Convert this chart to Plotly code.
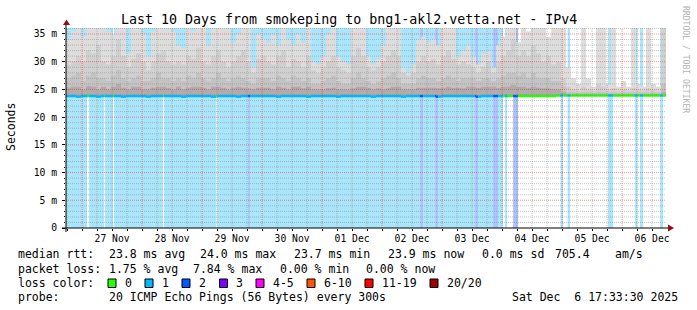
import pandas as pd
import plotly.graph_objects as go

# ---------------- data ----------------
TITLE = "Last 10 Days from smokeping to bng1-akl2.vetta.net - IPv4"
START = "2025-11-26 17:33:30"
END = "2025-12-06 17:33:30"
DAY0 = "2025-11-27 00:00:00"
BIN_HOURS = 2

day_labels = ["27 Nov", "28 Nov", "29 Nov", "30 Nov", "01 Dec",
              "02 Dec", "03 Dec", "04 Dec", "05 Dec", "06 Dec"]
y_ticks = [0, 5, 10, 15, 20, 25, 30, 35]
y_tick_labels = ["0", "5 m", "10 m", "15 m", "20 m", "25 m", "30 m", "35 m"]

# median rtt per 2h bin (ms)
median_ms = [
    23.8, 23.8, 23.7, 23.8, 23.8, 23.8, 23.7, 23.8, 23.8, 23.8,
    23.8, 23.7, 23.8, 23.8, 23.8, 23.8, 23.7, 23.8, 23.8, 23.8,
    23.8, 23.8, 23.8, 23.7, 23.8, 23.8, 23.8, 23.8, 23.8, 23.7,
    23.8, 23.8, 23.8, 23.8, 23.7, 23.8, 23.8, 23.8, 23.8, 23.8,
    23.8, 23.8, 23.7, 23.8, 23.8, 23.8, 23.8, 23.8, 23.7, 23.8,
    23.8, 23.8, 23.8, 23.8, 23.7, 23.8, 23.8, 23.8, 23.8, 23.8,
    23.8, 23.7, 23.8, 23.8, 23.8, 23.8, 23.8, 23.7, 23.8, 23.8,
    23.8, 23.8, 23.8, 23.8, 23.7, 23.8, 23.8, 23.8, 23.8, 23.8,
    23.8, 23.8, 23.7, 23.8, 23.8, 23.8, 23.8, 23.8, 23.8, 23.8,
    23.8, 23.8, 23.8, 23.8, 23.8, 23.8, 23.8, 23.8, 23.9, 23.9,
    23.9, 23.9, 23.9, 23.9, 23.9, 23.9, 23.9, 23.9, 23.9, 23.9,
    23.9, 23.9, 23.9, 23.9, 23.9, 23.9, 23.9, 23.9, 23.9, 23.9,
]
# smoke: highest ping per bin (values above the axis top are clipped)
smoke_max_ms = [
    34, 35.5, 40, 34.5, 40, 40, 40, 40, 35.5, 35,
    40, 40, 31.5, 40, 36, 35, 31, 35.5, 40, 40,
    40, 35.5, 33, 32.5, 40, 35.5, 40, 40, 33, 36,
    40, 40, 36, 33.5, 35, 40, 40, 29, 35, 34,
    33.5, 35, 33, 40, 34, 33, 35, 33.5, 40, 30,
    29.5, 31, 35, 36, 31, 30, 29.5, 40, 40, 40,
    31, 29.5, 30.5, 33, 40, 40, 36, 29, 28, 29.5,
    34, 34.5, 33.5, 34, 33, 40, 40, 40, 31, 32,
    33, 31, 29.5, 31.5, 32, 29, 33, 34.5, 40, 40,
    33.5, 40, 35.5, 40, 40, 40, 34.5, 40, 40, 40,
    29, 27, 26, 40, 27, 25.5, 40, 40, 26, 40,
    25.5, 26.5, 25.5, 40, 26, 25.5, 40, 26, 25.5, 40,
]
smoke_p2_ms = [
    29.5, 30, 31, 30, 32, 31.5, 33, 30, 29.5, 31,
    34, 31, 29, 30.5, 31.5, 30, 28.5, 30, 31.5, 32,
    30, 29.5, 30, 29.5, 31, 30.5, 32.5, 30, 29.5, 31,
    32, 30, 29, 30, 31, 32, 30, 28, 30.5, 31,
    30, 29.5, 31, 32, 29, 30.5, 30, 29, 31, 28.5,
    28, 29, 30, 31, 29, 28.5, 28, 31, 32.5, 31,
    29, 28.5, 29, 30, 31, 32, 31, 28, 27.5, 28,
    30, 31, 30, 30.5, 29.5, 31, 32, 30.5, 29.5, 30,
    29.5, 29, 28, 29, 30, 28, 30, 31, 32, 34,
    31, 32, 31, 33, 31.5, 30, 31, 29.5, 30, 27,
    25.5, 25, 24.8, 25.5, 25, 24.8, 26, 25.5, 24.8, 25.2,
    24.8, 25, 24.8, 25.2, 25, 24.8, 25.2, 25, 24.8, 40,
]
smoke_p3_ms = [
    27, 27.5, 28, 26.5, 27.5, 28, 27, 27, 26.5, 27.5,
    28.5, 27, 26.5, 27, 27.5, 26.5, 26.5, 27, 28, 27,
    27, 26.5, 27, 26.5, 27.5, 27, 28, 27, 26.5, 27,
    28, 27, 26.5, 27, 27.5, 27, 26.5, 26, 27, 27,
    27, 26.5, 27.5, 27, 26.5, 27.5, 27, 26.5, 27, 26,
    26, 26.5, 27, 27.5, 26.5, 26, 26, 27, 28, 27,
    26.5, 26, 26.5, 27, 27.5, 28, 27, 26, 26, 26,
    27, 27.5, 27, 27, 26.5, 27, 27.5, 27, 26.5, 27,
    27, 27, 26.5, 27, 27, 26.5, 27, 27.5, 28, 28,
    27.5, 28, 27, 28, 27, 27, 27, 26.5, 26.5, 25.5,
    24.6, 24.5, 24.4, 24.5, 24.5, 24.4, 24.6, 24.5, 24.4, 24.5,
    24.4, 24.5, 24.4, 24.5, 24.5, 24.4, 24.5, 24.5, 24.4, 26,
]
smoke_p4_ms = [
    25.3, 25.5, 25.5, 25, 25.6, 25.5, 25, 25.5, 25, 25.5,
    26, 25.3, 25, 25.5, 25.5, 25, 25, 25.3, 25.5, 25.5,
    25.3, 25, 25.5, 25, 25.3, 25.5, 25.5, 25.3, 25, 25.5,
    25.5, 25.3, 25, 25.3, 25.5, 25.3, 25.2, 25, 25.3, 25.3,
    25.3, 25, 25.5, 25.3, 25, 25.5, 25.5, 25.2, 25.5, 25,
    25, 25, 25.2, 25.3, 25, 25, 25, 25.2, 25.5, 25.5,
    25.3, 25, 25.2, 25, 25.2, 25.5, 25.5, 25, 25, 25,
    25.3, 25.3, 25.3, 25.3, 25.2, 25.3, 25.5, 25.3, 25.3, 25.2,
    25.5, 25.5, 25.3, 25.5, 25.5, 25.5, 25.3, 25.5, 25.5, 25.8,
    25.5, 25.5, 25.3, 25.5, 25.3, 25.2, 25.2, 25, 25, 24.5,
    24.2, 24.2, 24.2, 24.2, 24.2, 24.1, 24.2, 24.2, 24.1, 24.1,
    24.1, 24.1, 24.1, 24.1, 24.1, 24.1, 24.1, 24.1, 24.1, 24.5,
]

# periods with packet loss: (start, end, lost pings out of 20)
loss_periods = [
    ("2025-11-26 17:33:30", "2025-11-27 02:00", 1),
    ("2025-11-27 02:48", "2025-11-27 08:48", 1),
    ("2025-11-27 09:12", "2025-11-27 12:24", 1),
    ("2025-11-27 12:48", "2025-11-28 08:24", 1),
    ("2025-11-28 08:48", "2025-11-29 05:36", 1),
    ("2025-11-29 06:00", "2025-11-29 18:24", 1),
    ("2025-11-29 18:24", "2025-11-29 19:12", 2),
    ("2025-11-29 19:12", "2025-12-02 15:12", 1),
    ("2025-12-02 15:12", "2025-12-02 16:24", 2),
    ("2025-12-02 16:24", "2025-12-02 21:12", 1),
    ("2025-12-02 21:12", "2025-12-02 22:24", 2),
    ("2025-12-02 22:24", "2025-12-03 13:12", 1),
    ("2025-12-03 13:12", "2025-12-03 14:24", 2),
    ("2025-12-03 14:24", "2025-12-03 20:24", 1),
    ("2025-12-03 20:24", "2025-12-03 22:24", 2),
    ("2025-12-03 22:24", "2025-12-04 00:24", 1),
    ("2025-12-04 01:12", "2025-12-04 02:00", 1),
    ("2025-12-04 04:24", "2025-12-04 06:24", 2),
    ("2025-12-04 23:24", "2025-12-05 00:24", 1),
    ("2025-12-05 02:12", "2025-12-05 03:12", 1),
    ("2025-12-05 18:24", "2025-12-05 20:24", 1),
    ("2025-12-06 05:12", "2025-12-06 06:12", 1),
    ("2025-12-06 07:12", "2025-12-06 08:24", 1),
    ("2025-12-06 15:12", "2025-12-06 16:24", 1),
]

median_stats = [23.8, 24.0, 23.7, 23.9]   # avg, max, min, now (ms)
median_sd = 0.0
median_amps = 705.4
loss_stats = [1.75, 7.84, 0.00, 0.00]     # avg, max, min, now (%)
loss_legend = ["0", "1", "2", "3", "4-5", "6-10", "11-19", "20/20"]
probe_text = "20 ICMP Echo Pings (56 Bytes) every 300s"
stamp_text = "Sat Dec\u00a0\u00a06 17:33:30 2025"

# ---------------- style ----------------
FONT = "DejaVu Sans Mono"
LOSS_LINE = {0: "#26ff00", 1: "#00b8ff", 2: "#0059ff", 3: "#7e00ff"}
LOSS_BG = {1: "#a9e5fb", 2: "#aac3fc", 3: "#cfb3fc"}
LEGEND_COLORS = ["#26ff00", "#00b8ff", "#0059ff", "#7e00ff",
                 "#ff00ff", "#ff5500", "#ff0000", "#a10000"]
SMOKE_COLORS = ["#dddddd", "#d0d0d0", "#c3c3c3", "#b2abab"]
MINOR_GRID = "rgba(128,128,128,0.45)"
MAJOR_GRID = "rgba(255,0,0,0.42)"

W, H = 697, 310
ML, MR, MT, MB = 66, 31, 28, 82
PW, PH = W - ML - MR, H - MT - MB
YMAX = 36.08


def hrs(t):
    return (pd.Timestamp(t) - pd.Timestamp(DAY0)).total_seconds() / 3600.0


def px(x):
    return (x - ML) / PW


def py(y):
    return (MT + PH - y) / PH


x0, x1 = hrs(START), hrs(END)
nb = len(median_ms)
bin_left = [x0 + BIN_HOURS * i for i in range(nb)]
bin_mid = [b + BIN_HOURS / 2 for b in bin_left]
periods = [(hrs(a), hrs(b), l) for a, b, l in loss_periods]

fig = go.Figure()

# loss background
fig.add_trace(go.Bar(
    x=[(a + b) / 2 for a, b, _ in periods],
    width=[b - a for a, b, _ in periods],
    y=[YMAX] * len(periods), base=[0] * len(periods),
    marker=dict(color=[LOSS_BG[l] for _, _, l in periods], line=dict(width=0)),
    hoverinfo="skip"))

# smoke
for layer, col in zip([smoke_max_ms, smoke_p2_ms, smoke_p3_ms, smoke_p4_ms], SMOKE_COLORS):
    fig.add_trace(go.Bar(
        x=bin_mid, width=[BIN_HOURS] * nb,
        y=[v - m for v, m in zip(layer, median_ms)], base=median_ms,
        marker=dict(color=col, line=dict(width=0)), hoverinfo="skip"))

# median line coloured by loss
edges = sorted(set(bin_left + [x1] + [a for a, _, _ in periods] + [b for _, b, _ in periods]))
edges = [e for e in edges if x0 <= e <= x1]
seg_x, seg_w, seg_b, seg_c = [], [], [], []
for a, b in zip(edges[:-1], edges[1:]):
    mid = (a + b) / 2
    bi = min(nb - 1, int((mid - x0) // BIN_HOURS))
    loss = 0
    for pa, pb, l in periods:
        if pa <= mid < pb:
            loss = l
    seg_x.append(mid)
    seg_w.append(b - a)
    seg_b.append(median_ms[bi] - 0.22)
    seg_c.append(LOSS_LINE[loss])
fig.add_trace(go.Bar(x=seg_x, width=seg_w, y=[0.45] * len(seg_x), base=seg_b,
                     marker=dict(color=seg_c, line=dict(width=0)), hoverinfo="skip"))

shapes = []
DOT = "1px,1px"
# vertical grid
for h6 in range(-6, int(x1) + 1, 6):
    if h6 < x0:
        continue
    major = h6 % 24 == 0
    shapes.append(dict(type="line", xref="x", yref="paper", x0=h6, x1=h6, y0=0, y1=1,
                       layer="above",
                       line=dict(color=MAJOR_GRID if major else MINOR_GRID, width=1, dash=DOT)))
# horizontal grid
for v in range(1, int(YMAX) + 1):
    major = v % 5 == 0
    shapes.append(dict(type="line", xref="paper", yref="y", x0=0, x1=1, y0=v, y1=v,
                       layer="above",
                       line=dict(color=MAJOR_GRID if major else MINOR_GRID, width=1, dash=DOT)))
# axes lines and arrows
shapes.append(dict(type="line", xref="paper", yref="paper", x0=px(62), x1=px(670),
                   y0=0, y1=0, line=dict(color="black", width=1)))
shapes.append(dict(type="line", xref="paper", yref="paper", x0=0, x1=0,
                   y0=py(232), y1=py(24), line=dict(color="black", width=1)))
shapes.append(dict(type="path", xref="paper", yref="paper",
                   path=f"M {px(63)} {py(25)} L {px(70)} {py(25)} L {px(66.5)} {py(19.5)} Z",
                   fillcolor="#8b1010", line=dict(width=0)))
shapes.append(dict(type="path", xref="paper", yref="paper",
                   path=f"M {px(668)} {py(224.5)} L {px(668)} {py(231.5)} L {px(674)} {py(228)} Z",
                   fillcolor="#8b1010", line=dict(width=0)))

ann = []
LF = dict(family=FONT, size=11.5, color="black")


def text(x, y, s, anchor="left", **kw):
    ann.append(dict(xref="paper", yref="paper", x=px(x), y=py(y), text=s, showarrow=False,
                    xanchor=anchor, yanchor="middle", font=kw.get("font", LF),
                    textangle=kw.get("angle", 0)))


text(348.5, 19, TITLE, anchor="center", font=dict(family=FONT, size=13.3, color="black"))
text(11, 127, "Seconds", anchor="center", angle=-90)
text(686, 59, "RRDTOOL / TOBI OETIKER", anchor="center", angle=90,
     font=dict(family=FONT, size=8.1, color="#b4b4b4"))

R1, R2, R3, R4 = 254, 268.5, 283, 297
text(16, R1, "median rtt:")
row1 = [f"{median_stats[0]:.1f} ms avg", f"{median_stats[1]:.1f} ms max",
        f"{median_stats[2]:.1f} ms min", f"{median_stats[3]:.1f} ms now",
        f"{median_sd:.1f} ms sd", f"{median_amps:.1f}", "am/s"]
for s, x in zip(row1, [107, 198, 292, 386, 480, 553, 613]):
    text(x, R1, s)
text(16, R2, "packet loss:")
row2 = [f"{loss_stats[0]:.2f} % avg", f"{loss_stats[1]:.2f} % max",
        f"{loss_stats[2]:.2f} % min", f"{loss_stats[3]:.2f} % now"]
for s, x in zip(row2, [107, 191, 278, 364]):
    text(x, R2, s)
text(16, R3, "loss color:")
for lab, col, bx in zip(loss_legend, LEGEND_COLORS, [108, 145, 182, 219.5, 256, 307, 365, 430]):
    shapes.append(dict(type="rect", xref="paper", yref="paper",
                       x0=px(bx), x1=px(bx + 8), y0=py(R3 + 4.5), y1=py(R3 - 4),
                       fillcolor=col, line=dict(color="black", width=1)))
    text(bx + 14.5, R3, lab)
text(16, R4, "probe:")
text(107, R4, probe_text)
text(680, R4, stamp_text, anchor="right")

fig.update_layout(
    width=W, height=H, margin=dict(l=ML, r=MR, t=MT, b=MB, pad=0),
    paper_bgcolor="white", plot_bgcolor="white", showlegend=False,
    barmode="overlay", shapes=shapes, annotations=ann,
    xaxis=dict(range=[x0, x1], tickmode="array",
               tickvals=[12 + 24 * i for i in range(len(day_labels))], ticktext=day_labels,
               showgrid=False, zeroline=False, showline=False, ticks="",
               ticklabelstandoff=3,
               tickfont=dict(family=FONT, size=9.7, color="black"),
               minor=dict(tickmode="linear", tick0=0, dtick=6, ticks="outside",
                          ticklen=2, tickcolor="black", showgrid=False)),
    yaxis=dict(range=[0, YMAX], tickmode="array", tickvals=y_ticks, ticktext=y_tick_labels,
               showgrid=False, zeroline=False, showline=False, ticks="outside",
               ticklen=3, tickcolor="black", ticklabelstandoff=3,
               tickfont=dict(family=FONT, size=9.7, color="black"),
               minor=dict(tickmode="linear", tick0=0, dtick=1, ticks="outside",
                          ticklen=1, tickcolor="black", showgrid=False)),
)

fig.write_html("out.html")
